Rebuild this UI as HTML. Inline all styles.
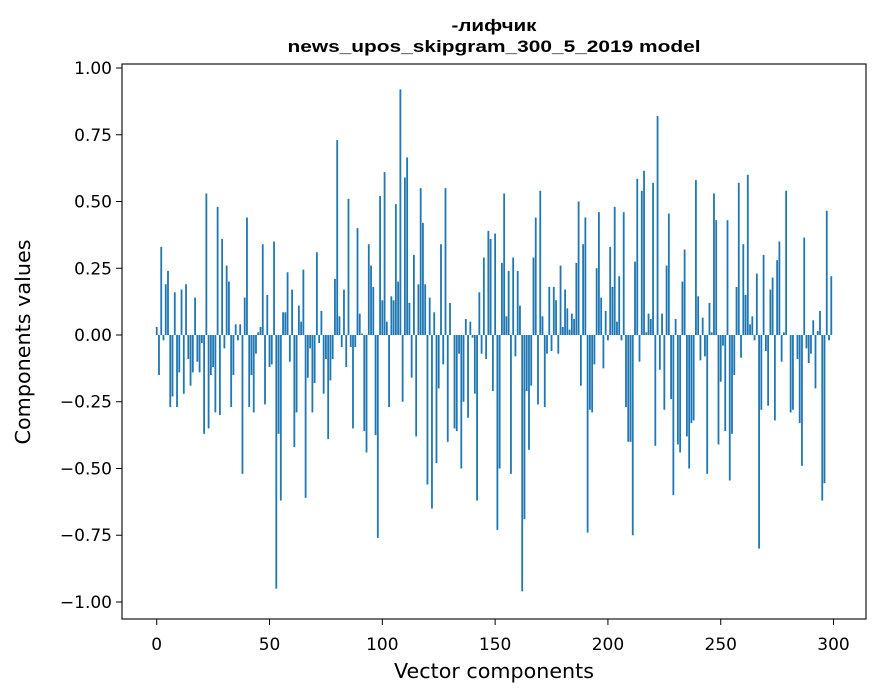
<!DOCTYPE html>
<html><head><meta charset="utf-8"><style>
html,body{margin:0;padding:0;background:#fff;}
svg{display:block;font-family:"DejaVu Sans","Liberation Sans",sans-serif;}
</style></head><body>
<svg id="chart" width="880" height="696" viewBox="0 0 880 696" xmlns="http://www.w3.org/2000/svg">
<rect x="0" y="0" width="880" height="696" fill="#fff"/>
<text x="494" y="31" text-anchor="middle" font-size="17" font-weight="bold" font-family="Liberation Sans, sans-serif" textLength="85" lengthAdjust="spacingAndGlyphs">-лифчик</text>
<text x="494" y="52" text-anchor="middle" font-size="17" font-weight="bold" font-family="Liberation Sans, sans-serif" textLength="413" lengthAdjust="spacingAndGlyphs">news_upos_skipgram_300_5_2019 model</text>
<g id="bars"></g>
<g id="xticks"></g>
<g id="yticks"></g>
<rect x="122" y="64" width="744" height="555" fill="none" stroke="#000" stroke-width="1.1"/>
<text x="494" y="678" text-anchor="middle" font-size="20.5" textLength="200" lengthAdjust="spacingAndGlyphs">Vector components</text>
<text transform="translate(30,342) rotate(-90)" text-anchor="middle" font-size="20.5" textLength="205" lengthAdjust="spacingAndGlyphs">Components values</text>
</svg>
<script>
const values = [
0.03,-0.15,0.33,-0.02,0.19,0.24,-0.27,-0.23,0.16,-0.27,
-0.14,0.17,-0.22,0.19,-0.09,-0.19,-0.14,0.14,-0.10,-0.14,
-0.03,-0.37,0.53,-0.35,-0.15,-0.12,-0.29,0.48,-0.30,0.36,
-0.05,0.26,0.20,-0.27,-0.15,0.04,-0.02,0.04,-0.52,0.14,
0.44,-0.27,-0.15,-0.29,-0.07,0.01,0.03,0.34,-0.26,0.15,
-0.12,-0.11,0.35,-0.95,-0.37,-0.62,0.085,0.085,0.235,-0.10,
0.17,-0.42,-0.29,0.11,0.05,0.245,-0.61,-0.16,-0.05,-0.29,
-0.18,0.31,-0.03,0.09,-0.22,-0.09,-0.39,-0.17,-0.09,0.21,
0.73,0.07,-0.045,0.17,-0.12,0.51,-0.045,-0.35,-0.045,0.40,
0.08,0.005,-0.36,-0.44,0.34,0.26,0.18,-0.375,-0.76,0.52,
0.13,0.61,0.05,-0.27,0.145,0.13,0.49,0.20,0.92,-0.25,
0.59,0.665,0.12,-0.16,0.30,-0.38,0.19,0.55,0.42,0.19,
-0.56,0.14,-0.65,0.085,-0.48,-0.20,0.34,-0.11,0.55,-0.40,
0.12,0.0,-0.35,-0.36,-0.07,-0.50,-0.25,0.06,-0.31,0.05,
-0.01,-0.22,-0.62,0.16,-0.07,0.29,-0.09,0.39,0.36,-0.21,
0.38,-0.73,-0.50,0.27,0.53,0.07,0.24,-0.52,0.29,-0.08,
0.24,0.11,-0.96,-0.69,-0.21,-0.43,-0.19,0.29,0.44,-0.26,
0.54,0.07,-0.27,-0.07,0.18,-0.06,0.18,0.13,-0.07,0.26,
0.03,0.17,0.10,0.02,0.08,0.06,0.27,0.50,-0.19,0.34,
0.44,-0.74,-0.28,-0.29,-0.11,0.25,0.46,0.14,-0.125,0.09,
-0.02,0.33,0.18,0.48,0.05,0.22,-0.02,0.46,-0.27,-0.40,
-0.40,-0.75,0.275,0.585,-0.10,0.54,0.615,0.01,0.08,0.06,
0.57,-0.415,0.82,-0.13,0.08,-0.28,0.26,0.455,-0.24,-0.60,
0.06,-0.41,-0.44,0.20,0.32,-0.38,-0.50,-0.33,-0.32,0.58,
0.145,-0.095,0.065,-0.08,-0.52,0.12,0.01,0.53,0.43,-0.41,
-0.175,-0.04,-0.36,0.43,-0.545,-0.37,-0.15,0.18,0.57,-0.085,
0.34,0.15,0.60,0.04,0.07,-0.02,0.23,-0.80,-0.28,0.30,
-0.06,-0.265,0.17,0.215,-0.32,0.28,0.35,-0.10,0.01,0.54,
0.0,-0.29,-0.28,0.0,-0.09,-0.33,-0.49,0.365,-0.05,-0.105,
-0.07,0.055,-0.20,0.015,0.09,-0.62,-0.555,0.465,-0.02,0.22
];
const xTickValues = [0,50,100,150,200,250,300];
const yTickValues = [-1.0,-0.75,-0.5,-0.25,0.0,0.25,0.5,0.75,1.0];

const NS = "http://www.w3.org/2000/svg";
const L = 122, R = 866, T = 64, B = 619;
const xmin = -15.39, xmax = 314.39, ymin = -1.0637, ymax = 1.015;
function xs(v){ return L + (v - xmin) / (xmax - xmin) * (R - L); }
function ys(v){ return B - (v - ymin) / (ymax - ymin) * (B - T); }

const barsG = document.getElementById('bars');
values.forEach(function(v, i){
  const r = document.createElementNS(NS, 'rect');
  const x0 = xs(i - 0.4), x1 = xs(i + 0.4);
  const y0 = ys(Math.max(v, 0)), y1 = ys(Math.min(v, 0));
  r.setAttribute('x', x0);
  r.setAttribute('width', x1 - x0);
  r.setAttribute('y', y0);
  r.setAttribute('height', Math.max(y1 - y0, 0));
  r.setAttribute('fill', '#1f77b4');
  
  
  barsG.appendChild(r);
});

const xg = document.getElementById('xticks');
xTickValues.forEach(function(t){
  const x = xs(t);
  const ln = document.createElementNS(NS, 'line');
  ln.setAttribute('x1', x); ln.setAttribute('x2', x);
  ln.setAttribute('y1', B); ln.setAttribute('y2', B + 6);
  ln.setAttribute('stroke', '#000'); ln.setAttribute('stroke-width', '1');
  
  
  xg.appendChild(ln);
  const tx = document.createElementNS(NS, 'text');
  tx.setAttribute('x', x); tx.setAttribute('y', 650);
  tx.setAttribute('text-anchor', 'middle');
  tx.setAttribute('font-size', '17');
  tx.textContent = String(t);
  
  
  xg.appendChild(tx);
});

const yg = document.getElementById('yticks');
yTickValues.forEach(function(t){
  const y = ys(t);
  const ln = document.createElementNS(NS, 'line');
  ln.setAttribute('x1', L - 6); ln.setAttribute('x2', L);
  ln.setAttribute('y1', y); ln.setAttribute('y2', y);
  ln.setAttribute('stroke', '#000'); ln.setAttribute('stroke-width', '1');
  
  
  yg.appendChild(ln);
  const tx = document.createElementNS(NS, 'text');
  tx.setAttribute('x', L - 10); tx.setAttribute('y', y + 6);
  tx.setAttribute('text-anchor', 'end');
  tx.setAttribute('font-size', '17');
  tx.textContent = (t < 0 ? '\u2212' : '') + Math.abs(t).toFixed(2);
  
  
  yg.appendChild(tx);
});
</script>
</body></html>
